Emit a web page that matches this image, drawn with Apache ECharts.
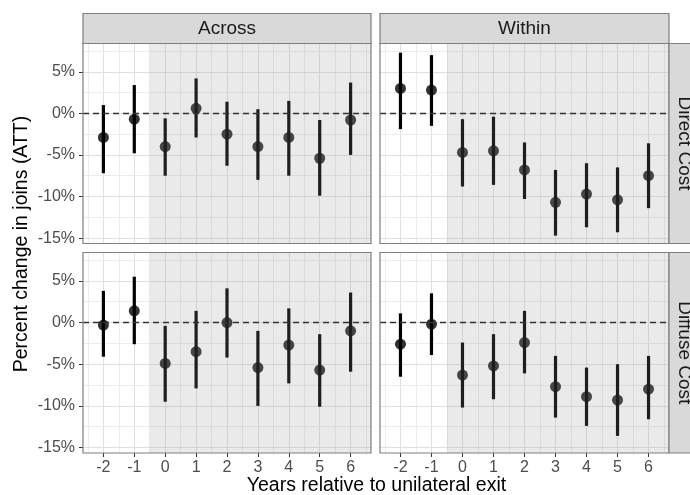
<!DOCTYPE html>
<html>
<head>
<meta charset="utf-8">
<script src="https://cdn.jsdelivr.net/npm/echarts@6/dist/echarts.min.js"></script>
<style>
  html, body { margin: 0; padding: 0; background: #fff; }
  #chart { width: 690px; height: 495px; }
</style>
</head>
<body>
<div id="chart"></div>
<script>
// Event-study estimates (percent change in joins, ATT) with 95% intervals
const years = [-2, -1, 0, 1, 2, 3, 4, 5, 6];
const yTicks = [-15, -10, -5, 0, 5];
const colFacets = ['Across', 'Within'];
const rowFacets = ['Direct Cost', 'Diffuse Cost'];

const acrossDirectEst = [-2.9, -0.7, -4.0, 0.6, -2.5, -4.0, -2.9, -5.4, -0.8];
const acrossDirectLo  = [-7.2, -4.8, -7.5, -2.9, -6.3, -8.0, -7.5, -9.9, -5.0];
const acrossDirectHi  = [1.0, 3.4, -0.6, 4.2, 1.4, 0.5, 1.5, -0.8, 3.7];

const withinDirectEst = [3.0, 2.8, -4.7, -4.5, -6.8, -10.7, -9.7, -10.4, -7.5];
const withinDirectLo  = [-1.9, -1.5, -8.8, -8.6, -10.3, -14.7, -13.7, -14.3, -11.4];
const withinDirectHi  = [7.3, 7.0, -0.7, -0.4, -3.5, -6.8, -6.0, -6.5, -3.6];

const acrossDiffuseEst = [-0.3, 1.4, -4.9, -3.5, 0.0, -5.4, -2.7, -5.7, -1.0];
const acrossDiffuseLo  = [-4.1, -2.6, -9.5, -7.9, -4.2, -10.0, -7.3, -10.1, -5.9];
const acrossDiffuseHi  = [3.8, 5.5, -0.4, 1.4, 4.1, -1.0, 1.7, -1.4, 3.6];

const withinDiffuseEst = [-2.6, -0.2, -6.3, -5.2, -2.4, -7.7, -8.9, -9.3, -8.0];
const withinDiffuseLo  = [-6.5, -3.9, -10.2, -9.2, -6.1, -11.4, -12.4, -13.6, -11.6];
const withinDiffuseHi  = [1.1, 3.5, -2.4, -1.4, 1.4, -4.0, -5.4, -5.0, -4.0];

// post-exit period starts half a year before year 0
const postStart = -0.5;

const panels = [
  { est: acrossDirectEst,  lo: acrossDirectLo,  hi: acrossDirectHi,  row: 0, col: 0 },
  { est: withinDirectEst,  lo: withinDirectLo,  hi: withinDirectHi,  row: 0, col: 1 },
  { est: acrossDiffuseEst, lo: acrossDiffuseLo, hi: acrossDiffuseHi, row: 1, col: 0 },
  { est: withinDiffuseEst, lo: withinDiffuseLo, hi: withinDiffuseHi, row: 1, col: 1 }
];

// layout
const FONT = '"Liberation Sans", Arial, Helvetica, sans-serif';
const colLeft = [83, 380];
const colWidth = [288, 289];
const rowTop = [43.5, 252.5];
const rowHeight = [200, 200.5];
const stripH = 30;
const xMin = -2.66, xMax = 6.66;
const yMin = -15.65, yMax = 8.4;

const grids = [], xAxes = [], yAxes = [], series = [];

panels.forEach((p, i) => {
  const isBottom = p.row === 1;
  const isLeft = p.col === 0;
  grids.push({
    left: colLeft[p.col], top: rowTop[p.row],
    width: colWidth[p.col], height: rowHeight[p.row],
    show: true, backgroundColor: '#ffffff', borderWidth: 0
  });
  xAxes.push({
    type: 'value', gridIndex: i, min: xMin, max: xMax,
    axisLine: { show: false, onZero: false },
    splitLine: { show: false },
    axisTick: { show: isBottom, customValues: years, length: 4, lineStyle: { color: '#333', width: 1 } },
    axisLabel: { show: isBottom, customValues: years, margin: 7, fontSize: 16, color: '#4d4d4d', fontFamily: FONT }
  });
  yAxes.push({
    type: 'value', gridIndex: i, min: yMin, max: yMax,
    axisLine: { show: false, onZero: false },
    splitLine: { show: false },
    axisTick: { show: isLeft, customValues: yTicks, length: 4, lineStyle: { color: '#333', width: 1 } },
    axisLabel: { show: isLeft, customValues: yTicks, margin: 8, fontSize: 16, color: '#4d4d4d', fontFamily: FONT,
                 formatter: v => v + '%' }
  });

  // panel grid: major on ticks, minor half-way between
  const gridLines = [];
  const majorStyle = { color: '#e0e0e0', width: 1, type: 'solid' };
  const minorStyle = { color: '#ececec', width: 1, type: 'solid' };
  years.forEach(x => gridLines.push({ xAxis: x, lineStyle: majorStyle }));
  [-2.5].concat(years.map(x => x + 0.5)).forEach(x => gridLines.push({ xAxis: x, lineStyle: minorStyle }));
  yTicks.forEach(y => gridLines.push({ yAxis: y, lineStyle: majorStyle }));
  yTicks.map(y => y + 2.5).forEach(y => gridLines.push({ yAxis: y, lineStyle: minorStyle }));
  series.push({
    type: 'line', xAxisIndex: i, yAxisIndex: i, data: [], z: 1, silent: true,
    markLine: { silent: true, symbol: 'none', z: 1, label: { show: false }, data: gridLines }
  });

  // confidence intervals
  series.push({
    type: 'custom', xAxisIndex: i, yAxisIndex: i, z: 2, silent: true,
    data: years.map((x, k) => [x, p.lo[k], p.hi[k]]),
    encode: { x: 0, y: [1, 2] },
    renderItem: (params, api) => {
      const a = api.coord([api.value(0), api.value(1)]);
      const b = api.coord([api.value(0), api.value(2)]);
      return { type: 'line', shape: { x1: a[0], y1: a[1], x2: b[0], y2: b[1] },
               style: { stroke: '#000', lineWidth: 3.2 } };
    }
  });

  // point estimates
  series.push({
    type: 'scatter', xAxisIndex: i, yAxisIndex: i, z: 3, silent: true,
    symbol: 'circle', symbolSize: 11, itemStyle: { color: '#000' },
    data: years.map((x, k) => [x, p.est[k]])
  });

  // translucent shading over the post-exit years
  series.push({
    type: 'line', xAxisIndex: i, yAxisIndex: i, data: [], z: 4, silent: true,
    markArea: { silent: true, z: 4, itemStyle: { color: 'rgba(150,150,150,0.2)' },
                data: [[{ xAxis: postStart }, { xAxis: xMax }]] }
  });

  // zero reference
  series.push({
    type: 'line', xAxisIndex: i, yAxisIndex: i, data: [], z: 5, silent: true,
    markLine: { silent: true, symbol: 'none', z: 5, label: { show: false },
                lineStyle: { color: '#333', width: 1.3, type: [6, 4] },
                data: [{ yAxis: 0 }] }
  });
});

// facet strips, panel borders and titles
const graphics = [];
const borderColor = '#7f7f7f';
panels.forEach(p => {
  graphics.push({
    type: 'rect', z: 100, silent: true,
    shape: { x: colLeft[p.col], y: rowTop[p.row], width: colWidth[p.col], height: rowHeight[p.row] },
    style: { fill: 'none', stroke: borderColor, lineWidth: 1.2 }
  });
});
colFacets.forEach((name, c) => {
  graphics.push({
    type: 'rect', z: 100, silent: true,
    shape: { x: colLeft[c], y: rowTop[0] - stripH, width: colWidth[c], height: stripH },
    style: { fill: '#d9d9d9', stroke: borderColor, lineWidth: 1.2 }
  });
  graphics.push({
    type: 'text', z: 101, silent: true,
    x: colLeft[c] + colWidth[c] / 2, y: rowTop[0] - stripH / 2,
    style: { text: name, fontSize: 19, fontFamily: FONT, fill: '#1a1a1a', align: 'center', verticalAlign: 'middle' }
  });
});
rowFacets.forEach((name, r) => {
  const x0 = colLeft[1] + colWidth[1];
  graphics.push({
    type: 'rect', z: 100, silent: true,
    shape: { x: x0, y: rowTop[r], width: stripH, height: rowHeight[r] },
    style: { fill: '#d9d9d9', stroke: borderColor, lineWidth: 1.2 }
  });
  graphics.push({
    type: 'text', z: 101, silent: true,
    x: x0 + stripH / 2, y: rowTop[r] + rowHeight[r] / 2, rotation: -Math.PI / 2,
    style: { text: name, fontSize: 19, fontFamily: FONT, fill: '#1a1a1a', align: 'center', verticalAlign: 'middle' }
  });
});
graphics.push({
  type: 'text', z: 101, silent: true, x: 376.5, y: 486,
  style: { text: 'Years relative to unilateral exit', fontSize: 19.5, fontFamily: FONT, fill: '#000',
           align: 'center', verticalAlign: 'middle' }
});
graphics.push({
  type: 'text', z: 101, silent: true, x: 22, y: 244, rotation: Math.PI / 2,
  style: { text: 'Percent change in joins (ATT)', fontSize: 19.5, fontFamily: FONT, fill: '#000',
           align: 'center', verticalAlign: 'middle' }
});

const chart = echarts.init(document.getElementById('chart'), null, { renderer: 'canvas' });
chart.setOption({
  animation: false,
  backgroundColor: '#ffffff',
  grid: grids,
  xAxis: xAxes,
  yAxis: yAxes,
  series: series,
  graphic: graphics
});
</script>
</body>
</html>
